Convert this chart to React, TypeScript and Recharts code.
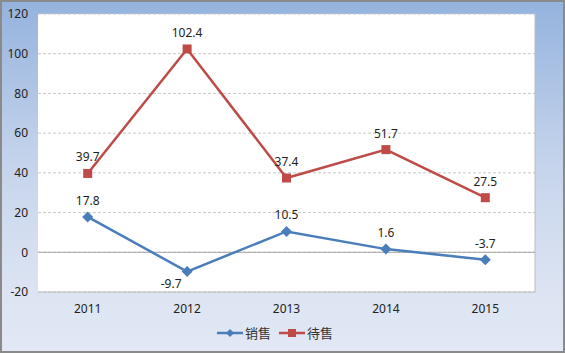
import React from "react";
import {
  LineChart, Line, XAxis, YAxis, CartesianGrid, Legend, LabelList, ReferenceLine
} from "recharts";

const years = ["2011", "2012", "2013", "2014", "2015"];
const sold = [17.8, -9.7, 10.5, 1.6, -3.7];
const forSale = [39.7, 102.4, 37.4, 51.7, 27.5];
const yTicks = [-20, 0, 20, 40, 60, 80, 100, 120];

const BLUE = "#4a7ebb";
const RED = "#be4b48";
const FONT = "'Noto Sans', 'Noto Sans CJK SC', sans-serif";

const data = years.map((y, i) => ({ year: y, sold: sold[i], forSale: forSale[i] }));

const Diamond = (props: any) => {
  const { cx, cy } = props;
  if (cx == null || cy == null) return null;
  const r = 5.5;
  return <path d={`M${cx},${cy - r}L${cx + r},${cy}L${cx},${cy + r}L${cx - r},${cy}Z`} fill={BLUE} />;
};

const Square = (props: any) => {
  const { cx, cy } = props;
  if (cx == null || cy == null) return null;
  return <rect x={cx - 4.5} y={cy - 4.5} width={9} height={9} fill={RED} />;
};

const valueLabel = (below: number[]) => (props: any) => {
  const { x, y, value, index } = props;
  const under = below.includes(index);
  return (
    <text
      x={under ? x - 16 : x}
      y={under ? y + 16 : y - 12}
      textAnchor="middle"
      fontSize={12}
      fontFamily={FONT}
      fill="#222"
    >
      {value}
    </text>
  );
};

const LegendBox = () => (
  <div style={{ display: "flex", justifyContent: "center", fontFamily: FONT, fontSize: 13, color: "#333" }}>
    <svg width={28} height={14} style={{ marginTop: 3 }}>
      <line x1={0} y1={7} x2={26} y2={7} stroke={BLUE} strokeWidth={2.5} />
      <path d="M13,3L17,7L13,11L9,7Z" fill={BLUE} />
    </svg>
    <span style={{ marginRight: 8 }}>销售</span>
    <svg width={28} height={14} style={{ marginTop: 3 }}>
      <line x1={0} y1={7} x2={26} y2={7} stroke={RED} strokeWidth={2.5} />
      <rect x={9} y={3} width={8} height={8} fill={RED} />
    </svg>
    <span>待售</span>
  </div>
);

export default function App() {
  return (
    <div
      style={{
        position: "absolute",
        left: 0,
        top: 0,
        width: 565,
        height: 353,
        boxSizing: "border-box",
        border: "2px solid #8a8a8a",
        background: "linear-gradient(to bottom, #95b3de 0%, #c4d3eb 45%, #dbe3f2 80%, #e2e8f4 100%)",
      }}
    >
      <div style={{ position: "absolute", left: -2, top: -2 }}>
        <LineChart width={565} height={353} data={data} margin={{ top: 14, right: 15, bottom: 0, left: 0 }}>
          <CartesianGrid vertical={false} fill="#fff" stroke="#c8c8c8" strokeDasharray="3 2" />
          <XAxis
            dataKey="year"
            scale="band"
            axisLine={false}
            tickLine={false}
            tick={{ fontSize: 12, fill: "#222", fontFamily: FONT }}
            tickMargin={6}
            height={42}
          />
          <YAxis
            width={38}
            domain={[-20, 120]}
            ticks={yTicks}
            axisLine={false}
            tickLine={false}
            tick={{ fontSize: 12, fill: "#222", fontFamily: FONT }}
            tickMargin={4}
            interval={0}
          />
          <YAxis yAxisId="r" orientation="right" width={15} tick={false} tickLine={false} axisLine={{ stroke: "#bcbcbc" }} />
          <ReferenceLine y={-20} stroke="#bcbcbc" />
          <ReferenceLine y={0} stroke="#a6a6a6" />
          <Legend verticalAlign="bottom" content={<LegendBox />} wrapperStyle={{ bottom: 11 }} />
          <Line
            dataKey="sold"
            stroke={BLUE}
            strokeWidth={2.5}
            dot={<Diamond />}
            activeDot={false}
            isAnimationActive={false}
          >
            <LabelList dataKey="sold" content={valueLabel([1])} />
          </Line>
          <Line
            dataKey="forSale"
            stroke={RED}
            strokeWidth={2.5}
            dot={<Square />}
            activeDot={false}
            isAnimationActive={false}
          >
            <LabelList dataKey="forSale" content={valueLabel([])} />
          </Line>
        </LineChart>
      </div>
    </div>
  );
}
